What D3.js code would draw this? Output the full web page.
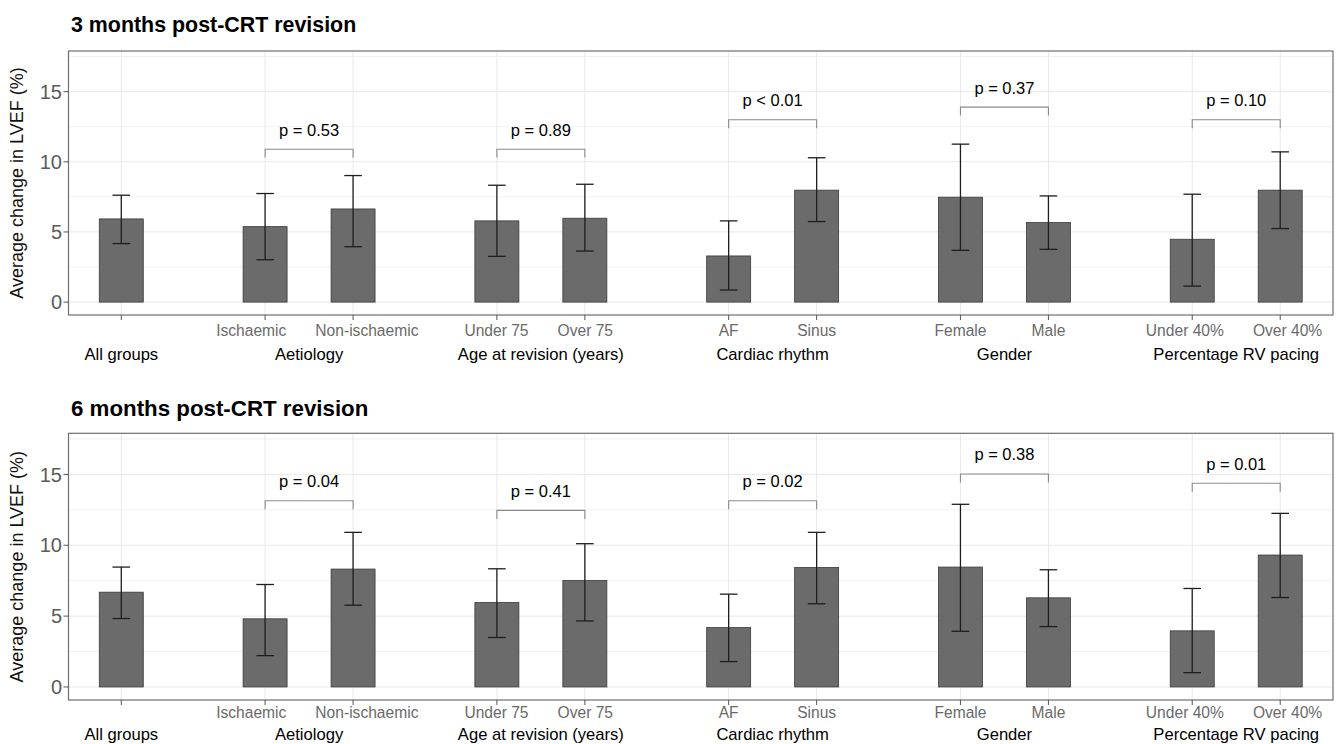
<!DOCTYPE html>
<html>
<head>
<meta charset="utf-8">
<script src="https://cdn.jsdelivr.net/npm/d3@7"></script>
<style>
body { margin: 0; background: #fff; }
svg text { font-family: "Liberation Sans", Arial, Helvetica, sans-serif; }
</style>
</head>
<body>
<div id="vis-container"></div>
<script>
// categories
const groups = ["All groups", "Aetiology", "Age at revision (years)", "Cardiac rhythm", "Gender", "Percentage RV pacing"];
const subgroups = [
    [""],
    ["Ischaemic", "Non-ischaemic"],
    ["Under 75", "Over 75"],
    ["AF", "Sinus"],
    ["Female", "Male"],
    ["Under 40%", "Over 40%"]
];

// 3 months: mean change and error bar ends, one value per bar
const mean3  = [5.93, 5.38, 6.64, 5.79, 5.98, 3.29, 7.98, 7.48, 5.67, 4.48, 7.98];
const lower3 = [4.17, 3.02, 3.95, 3.26, 3.64, 0.86, 5.74, 3.69, 3.76, 1.14, 5.24];
const upper3 = [7.62, 7.74, 9.02, 8.33, 8.40, 5.79, 10.29, 11.26, 7.57, 7.69, 10.71];
// p-value brackets, one per compared group (Aetiology .. RV pacing)
const bracket3 = [10.9, 10.9, 13.0, 13.9, 13.0];
const pLabel3 = ["p = 0.53", "p = 0.89", "p < 0.01", "p = 0.37", "p = 0.10"];

// 6 months
const mean6  = [6.69, 4.81, 8.32, 5.96, 7.51, 4.19, 8.43, 8.46, 6.29, 3.96, 9.31];
const lower6 = [4.83, 2.21, 5.77, 3.49, 4.66, 1.79, 5.87, 3.93, 4.26, 1.01, 6.31];
const upper6 = [8.46, 7.23, 10.91, 8.34, 10.11, 6.55, 10.91, 12.89, 8.27, 6.95, 12.25];
const bracket6 = [13.14, 12.46, 13.14, 15.03, 14.37];
const pLabel6 = ["p = 0.04", "p = 0.41", "p = 0.02", "p = 0.38", "p = 0.01"];

const yTicks = [0, 5, 10, 15];
const yMinor = [2.5, 7.5, 12.5, 17.5];
const yDomain = [-0.92, 17.9];

const barWidth = 0.5,
    capWidth = 0.2,
    expand = 0.6,
    facetGap = 0.4345,
    legLength = 0.6,
    minLabelGap = 29;

const panels = [
    {title: "3 months post-CRT revision", mean: mean3, lower: lower3, upper: upper3, bracket: bracket3, pLabel: pLabel3,
     top: 51, bottom: 315, titleY: 31.7, titleSize: 21.4, subY: 335.7, groupY: 360},
    {title: "6 months post-CRT revision", mean: mean6, lower: lower6, upper: upper6, bracket: bracket6, pLabel: pLabel6,
     top: 433.3, bottom: 700, titleY: 416, titleSize: 22.3, subY: 718.3, groupY: 740}
];
const left = 68.5, right = 1333;

// lay the categories out in units, like free-width facets side by side
let slots = [], groupInfo = [], offset = 0;
groups.forEach((g, gi) => {
    let subs = subgroups[gi];
    let first = slots.length;
    subs.forEach((s, si) => slots.push({group: g, gi: gi, si: si, sub: s, pos: offset + expand + si}));
    groupInfo.push({name: g, first: first, last: slots.length - 1,
        center: offset + expand + (subs.length - 1) / 2});
    offset += (subs.length - 1) + 2 * expand + facetGap;
});
const totalUnits = offset - facetGap;

let svg = d3.select("#vis-container")
    .append("svg")
    .attr("width", 1336)
    .attr("height", 744)
    .style("display", "block");

svg.append("rect").attr("width", 1336).attr("height", 744).attr("fill", "#fff");

let drawPanel = function(p){
    let x = d3.scaleLinear().domain([0, totalUnits]).range([left, right]);
    let y = d3.scaleLinear().domain(yDomain).range([p.bottom, p.top]);
    let g = svg.append("g");

    g.append("text")
        .attr("x", 71)
        .attr("y", p.titleY)
        .attr("font-size", p.titleSize)
        .attr("font-weight", "bold")
        .attr("fill", "#000")
        .text(p.title);

    // grid
    g.selectAll(".minor").data(yMinor).enter().append("line")
        .attr("x1", left).attr("x2", right)
        .attr("y1", d => y(d)).attr("y2", d => y(d))
        .attr("stroke", "#f1f1f1").attr("stroke-width", 1);
    g.selectAll(".major").data(yTicks).enter().append("line")
        .attr("x1", left).attr("x2", right)
        .attr("y1", d => y(d)).attr("y2", d => y(d))
        .attr("stroke", "#e8e8e8").attr("stroke-width", 1);
    g.selectAll(".vgrid").data(slots).enter().append("line")
        .attr("x1", d => x(d.pos)).attr("x2", d => x(d.pos))
        .attr("y1", p.top).attr("y2", p.bottom)
        .attr("stroke", "#e8e8e8").attr("stroke-width", 1);

    // bars
    g.selectAll(".bar").data(slots).enter().append("rect")
        .attr("x", d => x(d.pos - barWidth / 2))
        .attr("width", x(barWidth) - x(0))
        .attr("y", (d, i) => y(p.mean[i]))
        .attr("height", (d, i) => y(0) - y(p.mean[i]))
        .attr("fill", "#6b6b6b")
        .attr("stroke", "#3a3a3a")
        .attr("stroke-width", 0.8);

    // error bars
    let eb = g.selectAll(".err").data(slots).enter().append("g")
        .attr("stroke", "#1e1e1e")
        .attr("stroke-width", 1.3);
    eb.append("line")
        .attr("x1", d => x(d.pos)).attr("x2", d => x(d.pos))
        .attr("y1", (d, i) => y(p.lower[i])).attr("y2", (d, i) => y(p.upper[i]));
    eb.append("line")
        .attr("x1", d => x(d.pos - capWidth / 2)).attr("x2", d => x(d.pos + capWidth / 2))
        .attr("y1", (d, i) => y(p.upper[i])).attr("y2", (d, i) => y(p.upper[i]));
    eb.append("line")
        .attr("x1", d => x(d.pos - capWidth / 2)).attr("x2", d => x(d.pos + capWidth / 2))
        .attr("y1", (d, i) => y(p.lower[i])).attr("y2", (d, i) => y(p.lower[i]));

    // significance brackets
    let compared = groupInfo.slice(1);
    let br = g.selectAll(".bracket").data(compared).enter().append("g");
    br.append("path")
        .attr("fill", "none")
        .attr("stroke", "#8a8a8a")
        .attr("stroke-width", 1.1)
        .attr("d", (d, i) => {
            let x0 = x(slots[d.first].pos), x1 = x(slots[d.last].pos);
            let yt = y(p.bracket[i]), yb = y(p.bracket[i] - legLength);
            return `M${x0},${yb}V${yt}H${x1}V${yb}`;
        });
    br.append("text")
        .attr("x", d => x(d.center))
        .attr("y", (d, i) => y(p.bracket[i]) - 13.6)
        .attr("text-anchor", "middle")
        .attr("font-size", 16.5)
        .attr("fill", "#000")
        .text((d, i) => p.pLabel[i]);

    // border
    g.append("rect")
        .attr("x", left).attr("y", p.top)
        .attr("width", right - left).attr("height", p.bottom - p.top)
        .attr("fill", "none")
        .attr("stroke", "#6e6e6e")
        .attr("stroke-width", 1.2);

    // y axis
    g.selectAll(".ytick").data(yTicks).enter().append("line")
        .attr("x1", left - 5).attr("x2", left)
        .attr("y1", d => y(d)).attr("y2", d => y(d))
        .attr("stroke", "#555").attr("stroke-width", 1);
    g.selectAll(".ylab").data(yTicks).enter().append("text")
        .attr("x", left - 6.5)
        .attr("y", d => y(d))
        .attr("dy", "0.36em")
        .attr("text-anchor", "end")
        .attr("font-size", 20)
        .attr("fill", "#5a5a5a")
        .text(d => d);
    g.append("text")
        .attr("transform", `translate(23,${(p.top + p.bottom) / 2}) rotate(-90)`)
        .attr("text-anchor", "middle")
        .attr("font-size", 18)
        .attr("fill", "#111")
        .text("Average change in LVEF (%)");

    // x axis
    g.selectAll(".xtick").data(slots).enter().append("line")
        .attr("x1", d => x(d.pos)).attr("x2", d => x(d.pos))
        .attr("y1", p.bottom).attr("y2", p.bottom + 5)
        .attr("stroke", "#555").attr("stroke-width", 1);
    let xlab = g.selectAll(".xlab").data(slots).enter().append("text")
        .attr("x", d => x(d.pos))
        .attr("y", p.subY)
        .attr("text-anchor", "middle")
        .attr("font-size", 15.6)
        .attr("fill", "#6a6a6a")
        .text(d => d.sub);

    // push sibling labels apart when they crowd each other
    let nodes = xlab.nodes();
    groupInfo.forEach(gr => {
        if(gr.last === gr.first) return;
        let a = nodes[gr.first], b = nodes[gr.last];
        let wa = a.getComputedTextLength(), wb = b.getComputedTextLength();
        let xa = x(slots[gr.first].pos), xb = x(slots[gr.last].pos);
        let gap = (xb - wb / 2) - (xa + wa / 2);
        if(gap < minLabelGap){
            let shift = (minLabelGap - gap) / 2;
            d3.select(a).attr("x", xa - shift);
            d3.select(b).attr("x", xb + shift);
        }
    });

    g.selectAll(".glab").data(groupInfo).enter().append("text")
        .attr("x", d => x(d.center))
        .attr("y", p.groupY)
        .attr("text-anchor", "middle")
        .attr("font-size", 16.6)
        .attr("fill", "#000")
        .text(d => d.name);
}

panels.forEach(drawPanel);
</script>
</body>
</html>
